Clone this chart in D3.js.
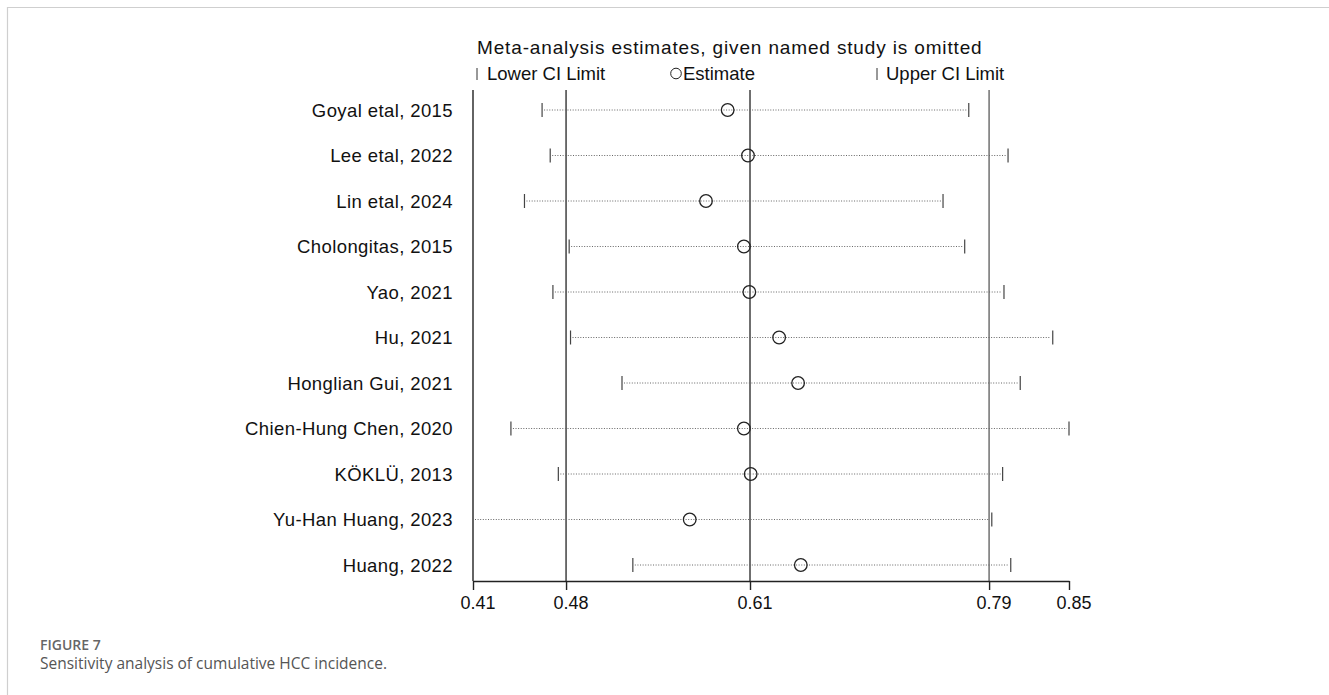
<!DOCTYPE html>
<html>
<head>
<meta charset="utf-8">
<script src="https://cdn.jsdelivr.net/npm/d3@7"></script>
<style>
  html, body { margin: 0; padding: 0; background: #fff; }
  svg { display: block; }
</style>
</head>
<body>
<svg id="chart" width="1329" height="695"></svg>
<script>
// ---- data ----
const studies = ["Goyal etal, 2015", "Lee etal, 2022", "Lin etal, 2024", "Cholongitas, 2015",
  "Yao, 2021", "Hu, 2021", "Honglian Gui, 2021", "Chien-Hung Chen, 2020",
  "KÖKLÜ, 2013", "Yu-Han Huang, 2023", "Huang, 2022"];
const estimates = [0.598, 0.613, 0.582, 0.610, 0.614, 0.636, 0.650, 0.610, 0.615, 0.570, 0.652];
const lowerCI   = [0.461, 0.467, 0.448, 0.481, 0.469, 0.482, 0.520, 0.438, 0.473, 0.410, 0.528];
const upperCI   = [0.776, 0.805, 0.757, 0.773, 0.802, 0.838, 0.814, 0.850, 0.801, 0.793, 0.807];
const overall = [0.4787, 0.6145, 0.791];     // lower, estimate, upper of the full analysis
const tickValues = [0.41, 0.4787, 0.6145, 0.791, 0.85];
const tickLabels = ["0.41", "0.48", "0.61", "0.79", "0.85"];

const svg = d3.select("#chart");
const FONT = "'Liberation Sans', Arial, sans-serif";

// card border
svg.append("path")
  .attr("d", "M7.5,700 L7.5,7.5 L1340,7.5")
  .attr("fill", "none").attr("stroke", "#cfcfcf").attr("stroke-width", 1.2);

const x = d3.scaleLinear().domain([0.41, 0.85]).range([473, 1069]);
const y = d3.scalePoint().domain(studies).range([110, 565]);
const plotTop = 90, plotBottom = 581;

// vertical reference lines
svg.selectAll("line.ref").data(overall).join("line")
  .attr("class", "ref")
  .attr("x1", d => x(d)).attr("x2", d => x(d))
  .attr("y1", plotTop).attr("y2", plotBottom)
  .attr("stroke", (d, i) => i === 2 ? "#666" : "#333").attr("stroke-width", 1.4);

// left axis line
svg.append("line")
  .attr("x1", x(0.41)).attr("x2", x(0.41))
  .attr("y1", plotTop).attr("y2", plotBottom)
  .attr("stroke", "#222").attr("stroke-width", 1.4);

// bottom axis
const axis = d3.axisBottom(x).tickValues(tickValues)
  .tickFormat((d, i) => tickLabels[i]).tickSize(9).tickSizeOuter(0);
const gAx = svg.append("g").attr("transform", `translate(0,${plotBottom})`).call(axis);
gAx.select(".domain").attr("stroke", "#222").attr("stroke-width", 1.4);
gAx.selectAll(".tick line").attr("stroke", "#222").attr("stroke-width", 1.4);
gAx.selectAll(".tick text").attr("font-family", FONT).attr("font-size", 18)
  .attr("fill", "#111").attr("dy", "0.89em").attr("dx", 4.5);

// dotted CI lines
const rows = studies.map((s, i) => ({s, e: estimates[i], lo: lowerCI[i], hi: upperCI[i]}));
svg.selectAll("line.ci").data(rows).join("line")
  .attr("class", "ci")
  .attr("x1", d => x(d.lo) + 2).attr("x2", d => x(d.hi) - 2)
  .attr("y1", d => y(d.s)).attr("y2", d => y(d.s))
  .attr("stroke", "#666").attr("stroke-width", 1).attr("stroke-dasharray", "1,1.6");

// caps
svg.selectAll("line.lo").data(rows.filter(d => d.lo > 0.411)).join("line")
  .attr("class", "lo")
  .attr("x1", d => x(d.lo)).attr("x2", d => x(d.lo))
  .attr("y1", d => y(d.s) - 7).attr("y2", d => y(d.s) + 7)
  .attr("stroke", "#444").attr("stroke-width", 1.2);
svg.selectAll("line.hi").data(rows).join("line")
  .attr("class", "hi")
  .attr("x1", d => x(d.hi)).attr("x2", d => x(d.hi))
  .attr("y1", d => y(d.s) - 7).attr("y2", d => y(d.s) + 7)
  .attr("stroke", "#444").attr("stroke-width", 1.2);

// estimate circles
svg.selectAll("circle.est").data(rows).join("circle")
  .attr("class", "est")
  .attr("cx", d => x(d.e)).attr("cy", d => y(d.s)).attr("r", 6.3)
  .attr("fill", "none").attr("stroke", "#222").attr("stroke-width", 1.3);

// row labels
svg.selectAll("text.lab").data(studies).join("text")
  .attr("class", "lab")
  .attr("x", 453).attr("y", d => y(d)).attr("dy", "0.36em")
  .attr("text-anchor", "end")
  .attr("font-family", FONT).attr("font-size", 18.5).attr("letter-spacing", "0.4px")
  .attr("fill", "#111").text(d => d);

// title & legend
svg.append("text").attr("x", 477).attr("y", 54)
  .attr("font-family", FONT).attr("font-size", 19).attr("letter-spacing", "0.85px").attr("fill", "#111")
  .text("Meta-analysis estimates, given named study is omitted");

const leg = svg.append("g").attr("font-family", FONT).attr("font-size", 18.5).attr("fill", "#111");
leg.append("line").attr("x1", 477).attr("x2", 477).attr("y1", 68).attr("y2", 80)
  .attr("stroke", "#333").attr("stroke-width", 1);
leg.append("text").attr("x", 487).attr("y", 80).text("Lower CI Limit");
leg.append("circle").attr("cx", 676).attr("cy", 73.5).attr("r", 5.3)
  .attr("fill", "none").attr("stroke", "#222").attr("stroke-width", 1);
leg.append("text").attr("x", 683).attr("y", 80).text("Estimate");
leg.append("line").attr("x1", 877).attr("x2", 877).attr("y1", 68).attr("y2", 80)
  .attr("stroke", "#333").attr("stroke-width", 1);
leg.append("text").attr("x", 886).attr("y", 80).text("Upper CI Limit");

// caption
svg.append("text").attr("x", 40).attr("y", 650)
  .attr("font-family", "'Open Sans', sans-serif").attr("font-size", 14).attr("font-weight", 600)
  .attr("fill", "#666").text("FIGURE 7");
svg.append("text").attr("x", 40).attr("y", 669)
  .attr("font-family", "'Open Sans', sans-serif").attr("font-size", 15.5)
  .attr("fill", "#555").text("Sensitivity analysis of cumulative HCC incidence.");
</script>
</body>
</html>
